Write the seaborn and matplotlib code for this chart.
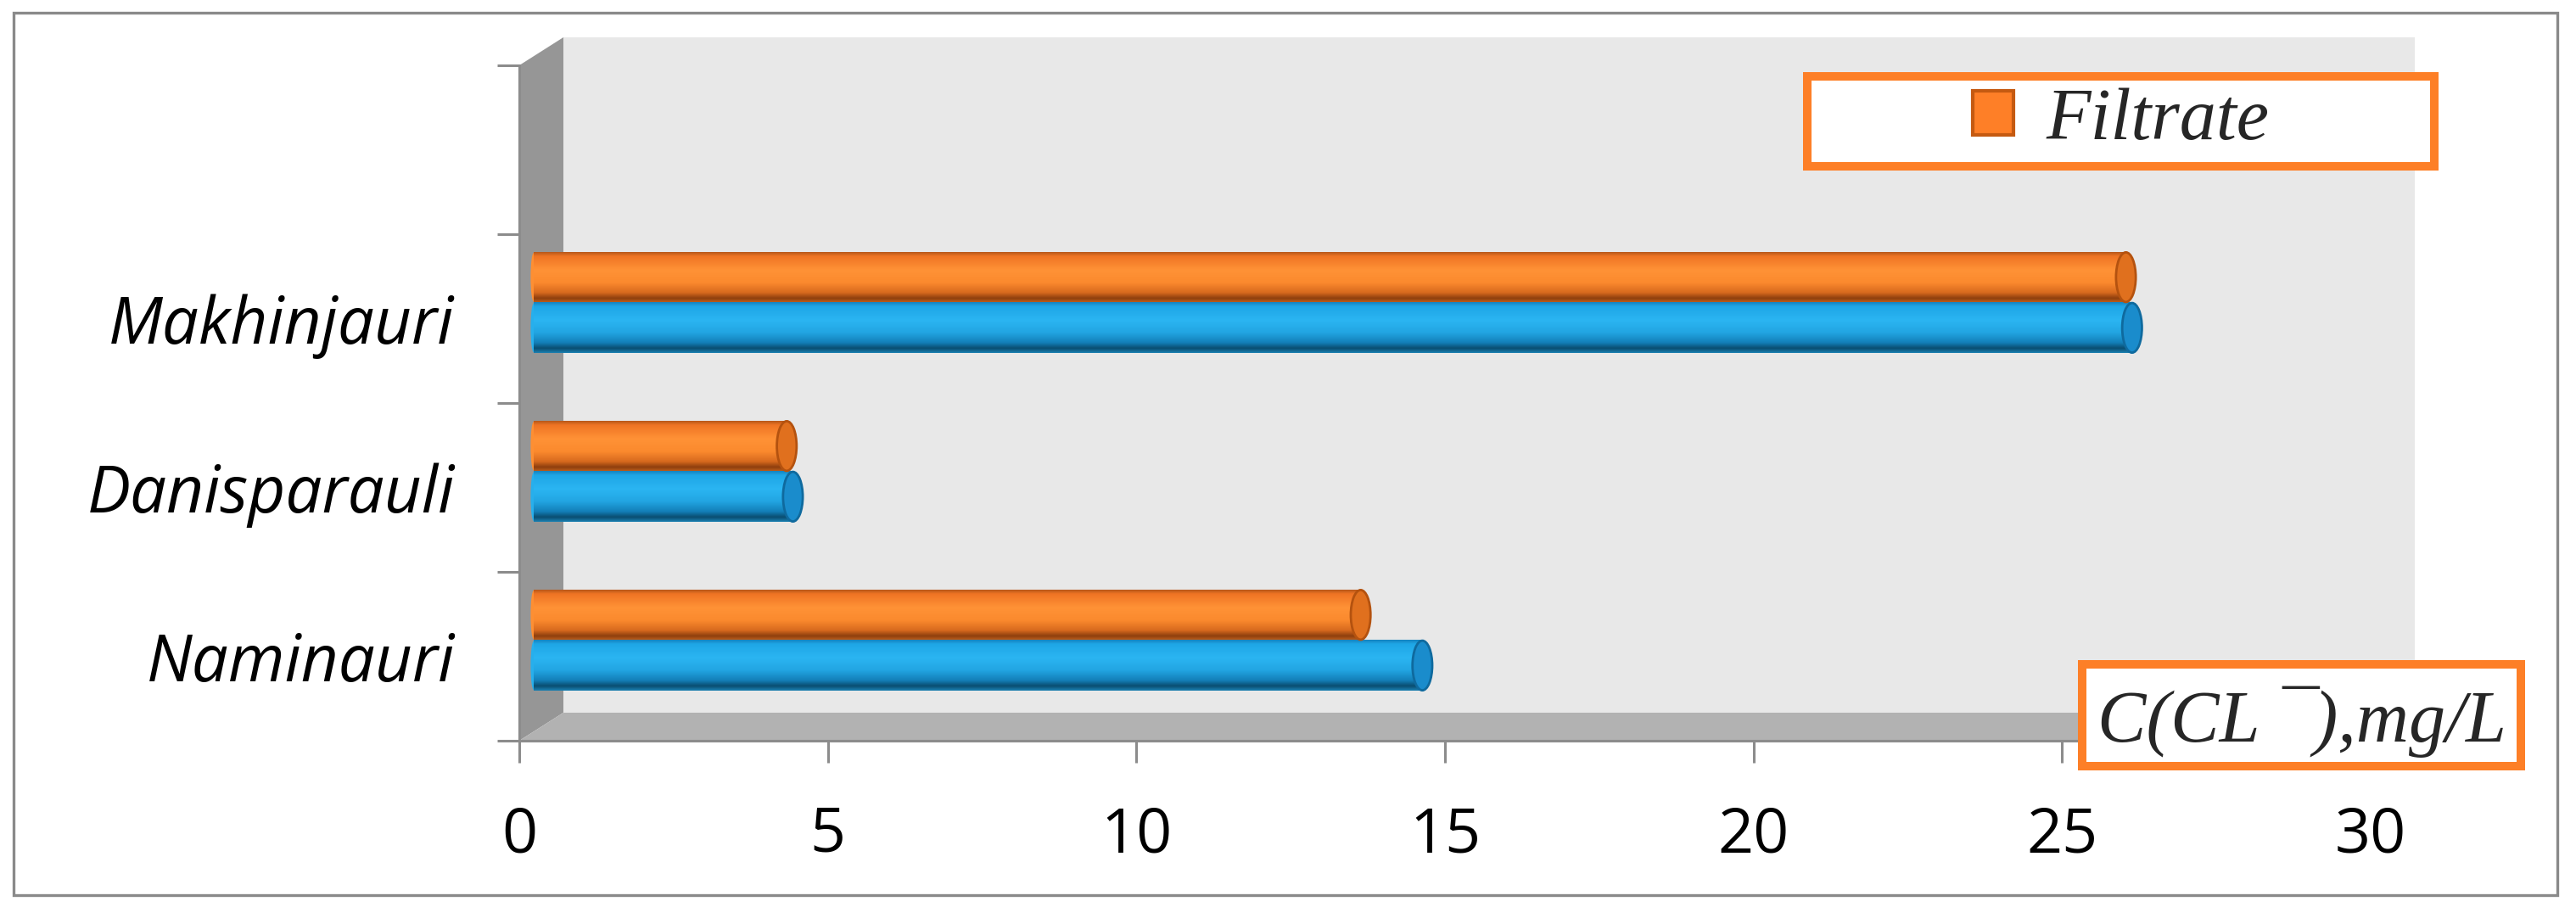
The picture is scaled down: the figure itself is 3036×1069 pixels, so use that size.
import numpy as np
import pandas as pd
import matplotlib
matplotlib.use("Agg")
import matplotlib.pyplot as plt
import seaborn as sns
from matplotlib.patches import Polygon, Rectangle, Ellipse, Patch
from matplotlib.colors import LinearSegmentedColormap, to_hex
from matplotlib.transforms import ScaledTranslation
from matplotlib.font_manager import FontProperties

# data (Naminauri at the bottom)
sites = ["Naminauri", "Danisparauli", "Makhinjauri"]
initial = [14.4, 4.2, 25.9]
filtrate = [13.4, 4.1, 25.8]
x_ticks = [0, 5, 10, 15, 20, 25, 30]
legend_label = "Filtrate"
axis_label = "C(CL ¯),mg/L"

df = pd.DataFrame({
    "site": sites * 2,
    "value": initial + filtrate,
    "series": ["Initial"] * len(sites) + [legend_label] * len(sites),
})

sns.set_theme(style="white")
plt.rcParams["font.family"] = ["Open Sans", "DejaVu Sans"]

W, H = 3036, 1069
fig = plt.figure(figsize=(W / 100, H / 100), dpi=100)
fig.patch.set_facecolor("white")

# axes = front plane of the 3D box, extended right to the back wall edge
x0_px, x30_px = 612, 2794
ppu = (x30_px - x0_px) / 30.0
DX, DY = 0.715, 0.166          # depth of the box in data units
xmax = 30 + DX
ytop = -1.5 - DY
ax = fig.add_axes([x0_px / W, (H - 873) / H, xmax * ppu / W, (873 - 44) / H])
ax.patch.set_visible(False)

orange, blue = "#fd8a2c", "#25b0ef"
palette = {legend_label: orange, "Initial": blue}
sns.barplot(data=df, x="value", y="site", hue="series", order=sites[::-1],
            hue_order=[legend_label, "Initial"], palette=palette, orient="h",
            width=0.6, legend=False, saturation=1, ax=ax, zorder=3,
            linewidth=0)
bars = [p for p in ax.patches if isinstance(p, Rectangle)]

# 3D box: back wall, side wall, floor
ax.add_patch(Rectangle((DX, 2.5 - DY), 30, ytop - (2.5 - DY), facecolor="#e8e8e8",
                       edgecolor="none", zorder=0, clip_on=False))
ax.add_patch(Polygon([(0, 2.5), (0, -1.5), (DX, -1.5 - DY), (DX, 2.5 - DY)],
                     facecolor="#969696", edgecolor="none", zorder=1, clip_on=False))
ax.add_patch(Polygon([(0, 2.5), (30, 2.5), (30 + DX, 2.5 - DY), (DX, 2.5 - DY)],
                     facecolor="#b2b2b2", edgecolor="none", zorder=1, clip_on=False))

# cylinder shading on the bars
cmaps = {
    orange: LinearSegmentedColormap.from_list("o", [
        (0, "#b8581a"), (0.08, "#ef7424"), (0.35, "#ff9236"), (0.6, "#fb8a2e"),
        (0.8, "#d86a1e"), (0.91, "#8e3f0e"), (1.0, "#c0601c")]),
    blue: LinearSegmentedColormap.from_list("b", [
        (0, "#1583c0"), (0.08, "#1ea6e6"), (0.35, "#2bb5f2"), (0.6, "#22a5e2"),
        (0.8, "#137fb8"), (0.91, "#0a4d70"), (1.0, "#1a7fb0")]),
}
caps = {orange: ("#e0701e", "#b4520f"), blue: ("#1a8ccc", "#0f6a9e")}
tr = ax.transData + ScaledTranslation(0.17, 0.19, fig.dpi_scale_trans)
grad = np.linspace(0, 1, 128).reshape(-1, 1)
cap_w = 0.32
for bar in bars:
    col = to_hex(bar.get_facecolor())
    if col not in cmaps or bar.get_width() <= 0:
        continue
    bx, by = bar.get_x(), bar.get_y()
    bw, bh = bar.get_width(), bar.get_height()
    bar.set_visible(False)
    ax.add_patch(Ellipse((bx, by + bh / 2), 0.1, bh * 0.96, transform=tr,
                         facecolor=cmaps[col](0.45), edgecolor="none", zorder=3))
    ax.imshow(grad, cmap=cmaps[col], extent=(bx, bx + bw, by + bh, by), origin="upper",
              aspect="auto", transform=tr, zorder=4, interpolation="bilinear")
    ax.add_patch(Ellipse((bx + bw, by + bh / 2), cap_w, bh * 0.98, transform=tr,
                         facecolor=caps[col][0], edgecolor=caps[col][1], lw=2, zorder=5))

ax.set_xlim(0, xmax)
ax.set_ylim(2.5, ytop)

# axes, ticks, labels
for s in ["top", "right"]:
    ax.spines[s].set_visible(False)
ax.spines["left"].set_bounds(-1.5, 2.5)
ax.spines["bottom"].set_bounds(0, 30)
for s in ["left", "bottom"]:
    ax.spines[s].set_color("#8c8c8c")
    ax.spines[s].set_linewidth(2.2)
    ax.spines[s].set_zorder(2)

ax.set_xticks(x_ticks)
ax.set_xticklabels([str(t) for t in x_ticks])
ax.tick_params(axis="x", length=18.7, width=2.2, color="#8c8c8c", pad=36,
               labelsize=53, labelcolor="black", bottom=True)
ax.set_yticks([0, 1, 2])
ax.set_yticklabels(sites[::-1])
ax.set_yticks([-1.5, -0.5, 0.5, 1.5, 2.5], minor=True)
ax.tick_params(axis="y", which="major", length=0, pad=55, labelsize=55, labelcolor="black")
ax.tick_params(axis="y", which="minor", length=18.7, width=2.2, color="#8c8c8c", left=True)
for lab in ax.get_yticklabels():
    lab.set_fontstyle("italic")
ax.set_xlabel("")
ax.set_ylabel("")

serif = FontProperties(family=["Liberation Serif", "DejaVu Serif"], style="italic", size=62)
box_col = "#fd7f27"

# legend box
fig.add_artist(Rectangle((2130 / W, (H - 196) / H), 739 / W, 106 / H, transform=fig.transFigure,
                         facecolor="white", edgecolor=box_col, linewidth=7.2, zorder=2))
fig.legend(handles=[Patch(facecolor="#fe7f27", edgecolor="#c55a11", linewidth=3,
                          label=legend_label)],
           loc="center", bbox_to_anchor=(2500 / W, (H - 143) / H), frameon=False,
           prop=serif, handlelength=0.55, handleheight=0.55, handletextpad=0.45)

# axis title box
fig.add_artist(Rectangle((2454 / W, (H - 903) / H), 517 / W, 120 / H, transform=fig.transFigure,
                         facecolor="white", edgecolor=box_col, linewidth=7.2, zorder=2))
fig.text(2713 / W, (H - 874) / H, axis_label, fontproperties=serif, ha="center",
         va="baseline", zorder=4)

# outer chart frame
fig.add_artist(Rectangle((16 / W, (H - 1055) / H), (3014 - 16) / W, (1055 - 15) / H,
                         transform=fig.transFigure, fill=False, edgecolor="#8a8a8a",
                         linewidth=2.4, zorder=1))

fig.savefig("out.png", dpi=100)
